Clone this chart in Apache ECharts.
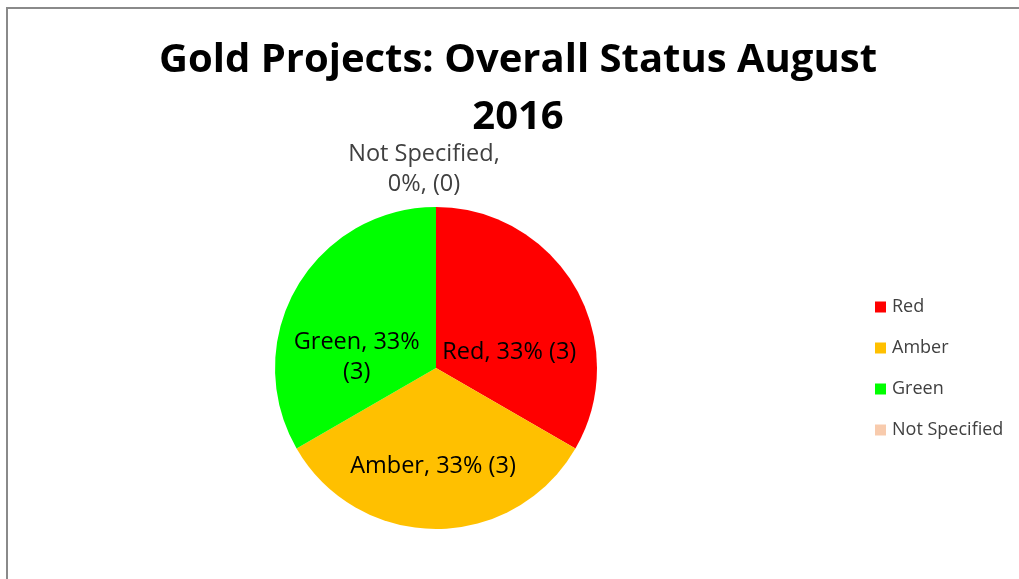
<!DOCTYPE html>
<html>
<head>
<meta charset="utf-8">
<script src="https://cdn.jsdelivr.net/npm/echarts@6/dist/echarts.min.js"></script>
<style>
html,body{margin:0;padding:0;background:#fff;}
#chart{width:1019px;height:579px;}
</style>
</head>
<body>
<div id="chart"></div>
<script>
const categories = ['Red', 'Amber', 'Green', 'Not Specified'];
const values = [3, 3, 3, 0];
const colors = ['#FF0000', '#FFC000', '#00FF00', '#F8CBAD'];
const labelOffsets = [[1, 26], [-3, 15], [-7, 31], [-12, -115]];
const titleText = 'Gold Projects: Overall Status August\n2016';

const total = values.reduce((a, b) => a + b, 0);
const chart = echarts.init(document.getElementById('chart'));
const FONT = 'Open Sans';

chart.setOption({
  animation: false,
  backgroundColor: '#ffffff',
  graphic: [{
    type: 'rect',
    shape: { x: 7, y: 8, width: 1100, height: 700 },
    style: { fill: 'none', stroke: '#8a8a8a', lineWidth: 2 },
    silent: true
  }],
  title: {
    text: titleText,
    left: 518,
    top: 32,
    padding: 0,
    textAlign: 'center',
    textStyle: { fontFamily: FONT, fontSize: 40, fontWeight: 'bold', color: '#000', lineHeight: 57 }
  },
  legend: {
    orient: 'vertical',
    left: 875,
    top: 298,
    icon: 'rect',
    itemWidth: 11,
    itemHeight: 11,
    itemGap: 23,
    padding: 0,
    data: categories,
    textStyle: { fontFamily: FONT, fontSize: 18, color: '#404040', padding: [0, 0, 0, 1] }
  },
  series: [{
    type: 'pie',
    center: [436, 368],
    radius: [0, 161],
    startAngle: 90,
    clockwise: true,
    avoidLabelOverlap: false,
    minShowLabelAngle: -1,
    labelLine: { show: false },
    itemStyle: { borderWidth: 0 },
    emphasis: { disabled: true },
    data: categories.map((c, i) => ({
      name: c,
      value: values[i],
      itemStyle: { color: colors[i] },
      label: {
        show: true,
        position: 'inside',
        offset: labelOffsets[i],
        fontFamily: FONT,
        fontSize: 23.5,
        color: i === 3 ? '#404040' : '#000',
        lineHeight: 30,
        align: 'center',
        formatter: function (p) {
          const pct = total ? Math.round(p.value / total * 100) : 0;
          if (i === 2) return c + ', ' + pct + '%\n(' + p.value + ')';
          if (i === 3) return c + ',\n' + pct + '%, (' + p.value + ')';
          return c + ', ' + pct + '% (' + p.value + ')';
        }
      }
    }))
  }]
});
</script>
</body>
</html>
